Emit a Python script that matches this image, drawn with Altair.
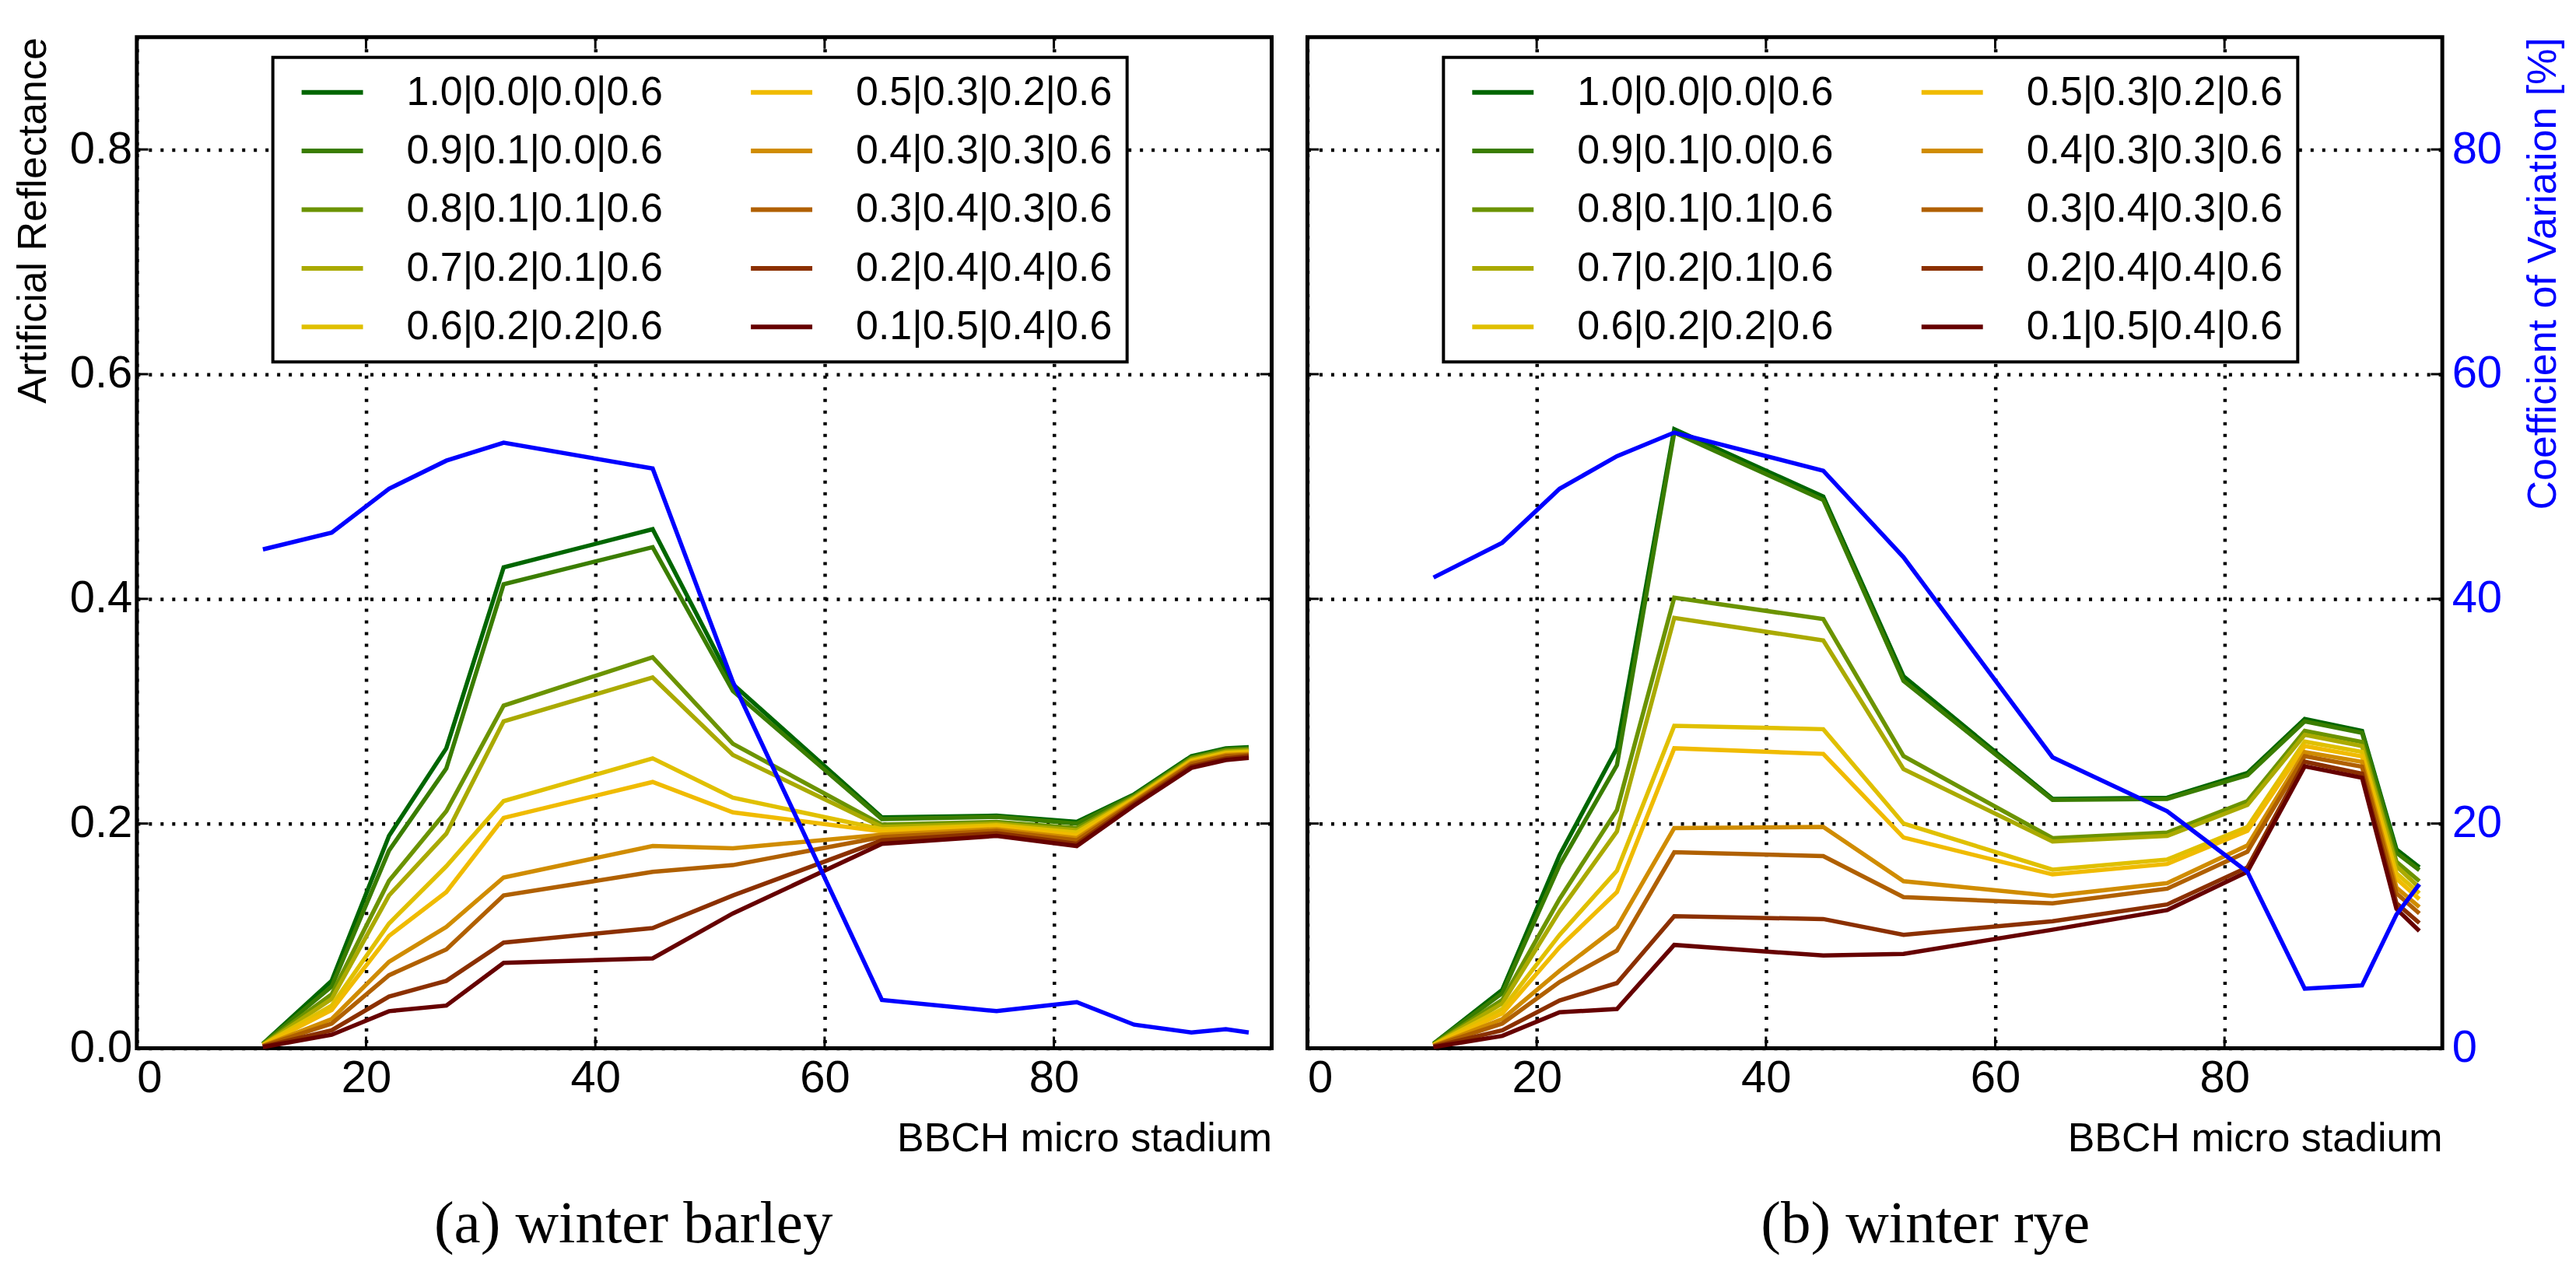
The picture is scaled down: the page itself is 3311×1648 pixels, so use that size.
import altair as alt
import pandas as pd

# ---------------- data ----------------
bbch = [11, 17, 22, 27, 32, 45, 52, 65, 75, 82, 87, 92, 95, 97]

mixtures = ["1.0|0.0|0.0|0.6", "0.9|0.1|0.0|0.6", "0.8|0.1|0.1|0.6",
            "0.7|0.2|0.1|0.6", "0.6|0.2|0.2|0.6", "0.5|0.3|0.2|0.6",
            "0.4|0.3|0.3|0.6", "0.3|0.4|0.3|0.6", "0.2|0.4|0.4|0.6",
            "0.1|0.5|0.4|0.6"]
mix_colors = ["#006600", "#3a7d00", "#6b9300", "#aaaa00", "#e0c000",
              "#f0bb00", "#d08c00", "#b06000", "#8b3000", "#660000"]

# winter barley, artificial reflectance per mixture
barley_m1 = [0.004, 0.060, 0.189, 0.267, 0.428, 0.462, 0.324, 0.2055, 0.207, 0.2015, 0.226, 0.260, 0.267, 0.268]
barley_m2 = [0.004, 0.055, 0.176, 0.249, 0.413, 0.446, 0.318, 0.204, 0.206, 0.200, 0.225, 0.259, 0.266, 0.267]
barley_m3 = [0.0035, 0.048, 0.149, 0.211, 0.305, 0.348, 0.271, 0.199, 0.2015, 0.196, 0.224, 0.258, 0.265, 0.266]
barley_m4 = [0.003, 0.044, 0.136, 0.191, 0.291, 0.330, 0.261, 0.197, 0.200, 0.194, 0.223, 0.257, 0.264, 0.265]
barley_m5 = [0.003, 0.038, 0.111, 0.162, 0.220, 0.258, 0.223, 0.195, 0.1985, 0.192, 0.222, 0.256, 0.263, 0.264]
barley_m6 = [0.0025, 0.034, 0.100, 0.139, 0.205, 0.237, 0.210, 0.193, 0.197, 0.1895, 0.221, 0.255, 0.262, 0.263]
barley_m7 = [0.002, 0.026, 0.077, 0.108, 0.152, 0.180, 0.178, 0.190, 0.195, 0.187, 0.220, 0.254, 0.261, 0.262]
barley_m8 = [0.002, 0.022, 0.065, 0.088, 0.136, 0.157, 0.163, 0.188, 0.1935, 0.185, 0.219, 0.253, 0.260, 0.261]
barley_m9 = [0.0015, 0.016, 0.046, 0.060, 0.094, 0.107, 0.136, 0.185, 0.1915, 0.182, 0.2175, 0.251, 0.258, 0.260]
barley_m10 = [0.001, 0.012, 0.033, 0.038, 0.076, 0.080, 0.120, 0.182, 0.189, 0.180, 0.216, 0.2495, 0.2565, 0.2585]

# winter rye, artificial reflectance per mixture
rye_m1 = [0.004, 0.052, 0.172, 0.267, 0.551, 0.491, 0.331, 0.222, 0.223, 0.245, 0.293, 0.2825, 0.177, 0.161]
rye_m2 = [0.004, 0.049, 0.163, 0.252, 0.548, 0.488, 0.327, 0.221, 0.222, 0.243, 0.291, 0.2807, 0.174, 0.1586]
rye_m3 = [0.0035, 0.043, 0.133, 0.212, 0.401, 0.382, 0.260, 0.187, 0.192, 0.220, 0.2825, 0.2726, 0.166, 0.1487]
rye_m4 = [0.003, 0.040, 0.122, 0.193, 0.383, 0.363, 0.2485, 0.184, 0.189, 0.2166, 0.279, 0.269, 0.162, 0.143]
rye_m5 = [0.003, 0.035, 0.101, 0.158, 0.287, 0.284, 0.200, 0.159, 0.168, 0.197, 0.273, 0.2637, 0.1558, 0.138]
rye_m6 = [0.0025, 0.031, 0.090, 0.139, 0.267, 0.262, 0.1876, 0.1547, 0.164, 0.1936, 0.269, 0.2598, 0.151, 0.1327]
rye_m7 = [0.002, 0.026, 0.069, 0.108, 0.196, 0.197, 0.1487, 0.1356, 0.147, 0.1805, 0.2637, 0.2549, 0.143, 0.1257]
rye_m8 = [0.002, 0.022, 0.059, 0.087, 0.1745, 0.171, 0.1345, 0.129, 0.142, 0.175, 0.260, 0.2506, 0.138, 0.120]
rye_m9 = [0.0015, 0.016, 0.0425, 0.058, 0.1175, 0.115, 0.101, 0.113, 0.128, 0.161, 0.255, 0.2443, 0.129, 0.1115]
rye_m10 = [0.001, 0.011, 0.032, 0.035, 0.092, 0.0825, 0.084, 0.1055, 0.123, 0.157, 0.251, 0.2407, 0.124, 0.1044]

# coefficient of variation [%]
barley_cv = [44.4, 45.9, 49.8, 52.3, 53.9, 51.6, 32.6, 4.3, 3.3, 4.1, 2.1, 1.4, 1.7, 1.4]
rye_cv = [41.9, 45.0, 49.8, 52.7, 54.8, 51.4, 43.7, 25.9, 21.1, 15.7, 5.3, 5.6, 11.9, 14.6]

x_ticks = [0, 20, 40, 60, 80]
y_ticks = [0.0, 0.2, 0.4, 0.6, 0.8]
cv_ticks = [0, 20, 40, 60, 80]
x_domain = [0, 99]
y_domain = [0, 0.9]
cv_domain = [0, 90]

barley_series = [barley_m1, barley_m2, barley_m3, barley_m4, barley_m5,
                 barley_m6, barley_m7, barley_m8, barley_m9, barley_m10]
rye_series = [rye_m1, rye_m2, rye_m3, rye_m4, rye_m5,
              rye_m6, rye_m7, rye_m8, rye_m9, rye_m10]


def long_table(series):
    rows = []
    for name, vals in zip(mixtures, series):
        for b, v in zip(bbch, vals):
            rows.append({"mixture": name, "bbch": b, "reflectance": v})
    return pd.DataFrame(rows)


barley_df = long_table(barley_series)
rye_df = long_table(rye_series)
barley_cv_df = pd.DataFrame({"bbch": bbch, "cv": barley_cv})
rye_cv_df = pd.DataFrame({"bbch": bbch, "cv": rye_cv})
xtick_df = pd.DataFrame({"bbch": x_ticks[1:]})
ytick_df = pd.DataFrame({"reflectance": y_ticks[1:]})

PW, PH = 1460, 1301
FONT = "Liberation Sans"
TICK_X = 1.0      # inward tick length in BBCH units (~15 px)
TICK_Y = 0.0104   # inward tick length in reflectance units (~15 px)


def panel(df, cv_df, caption, left_labels, right_axis):
    x_enc = alt.X(
        "bbch:Q",
        scale=alt.Scale(domain=x_domain, nice=False, zero=False),
        axis=alt.Axis(values=x_ticks, title="BBCH micro stadium",
                      titleAnchor="end", labelPadding=10, titlePadding=23,
                      grid=True),
    )
    if left_labels:
        y_axis = alt.Axis(values=y_ticks, format=".1f", title="Artificial Reflectance",
                          titleAnchor="end", titlePadding=20, labelPadding=6, grid=True)
    else:
        y_axis = alt.Axis(values=y_ticks, labels=False, title=None, grid=True)
    y_enc = alt.Y("reflectance:Q", scale=alt.Scale(domain=y_domain, nice=False), axis=y_axis)

    refl = alt.Chart(df).mark_line(strokeWidth=5.5).encode(
        x=x_enc,
        y=y_enc,
        color=alt.Color(
            "mixture:N",
            scale=alt.Scale(domain=mixtures, range=mix_colors),
            legend=alt.Legend(
                title=None, orient="none", legendX=175, legendY=26, columns=2,
                symbolType="stroke", symbolSize=6241, symbolStrokeWidth=6,
                labelFontSize=52, labelFont=FONT, labelColor="black", labelLimit=600,
                labelOffset=53, columnPadding=95, rowPadding=23.5, padding=19,
                clipHeight=52, symbolOffset=15, strokeColor="black", fillColor="white",
            ),
        ),
    )

    # inward tick marks on all four sides, drawn through the scales
    tick_bottom = alt.Chart(xtick_df).mark_rule(strokeWidth=3, color="black").encode(
        x=x_enc, y=alt.datum(y_domain[0]), y2=alt.datum(y_domain[0] + TICK_Y))
    tick_top = alt.Chart(xtick_df).mark_rule(strokeWidth=3, color="black").encode(
        x=x_enc, y=alt.datum(y_domain[1]), y2=alt.datum(y_domain[1] - TICK_Y))
    tick_left = alt.Chart(ytick_df).mark_rule(strokeWidth=3, color="black").encode(
        y=y_enc, x=alt.datum(x_domain[0]), x2=alt.datum(x_domain[0] + TICK_X))
    tick_right = alt.Chart(ytick_df).mark_rule(strokeWidth=3, color="black").encode(
        y=y_enc, x=alt.datum(x_domain[1]), x2=alt.datum(x_domain[1] - TICK_X))

    base = alt.layer(refl, tick_bottom, tick_top, tick_left, tick_right)

    if right_axis:
        cv_axis = alt.Axis(values=cv_ticks, orient="right", grid=False,
                           labelColor="#0000ff", labelPadding=12,
                           title="Coefficient of Variation [%]", titleColor="#0000ff",
                           titleAngle=270, titleAnchor="end", titleAlign="right",
                           titleBaseline="top", titlePadding=28)
    else:
        cv_axis = None
    cv = alt.Chart(cv_df).mark_line(strokeWidth=5.5, color="#0000ff").encode(
        x=x_enc,
        y=alt.Y("cv:Q", scale=alt.Scale(domain=cv_domain, nice=False), axis=cv_axis),
    )
    return alt.layer(base, cv).resolve_scale(y="independent").properties(
        width=PW, height=PH,
        title=alt.TitleParams(caption, orient="bottom", anchor="middle", frame="bounds",
                              font="Liberation Serif", fontSize=77, fontWeight="normal",
                              color="black", offset=47, dx=-12),
    )


left = panel(barley_df, barley_cv_df, "(a) winter barley", True, False)
right = panel(rye_df, rye_cv_df, "(b) winter rye", False, True)

chart = (
    alt.hconcat(left, right, spacing=38)
    .resolve_scale(color="independent")
    .resolve_legend(color="independent")
    .properties(padding={"left": 5, "top": 35, "right": 5, "bottom": 5})
    .configure_view(stroke="black", strokeWidth=5)
    .configure_axis(labelFont=FONT, labelFontSize=58, labelColor="black",
                    titleFont=FONT, titleFontSize=52, titleFontWeight="normal",
                    titleColor="black", domain=False, ticks=False, tickSize=0,
                    gridColor="black", gridDash=[4, 11], gridWidth=4.5, gridOpacity=1)
    .configure_legend(strokeWidth=4)
)

chart.save("out.html", embed_options={"renderer": "svg", "actions": False})
